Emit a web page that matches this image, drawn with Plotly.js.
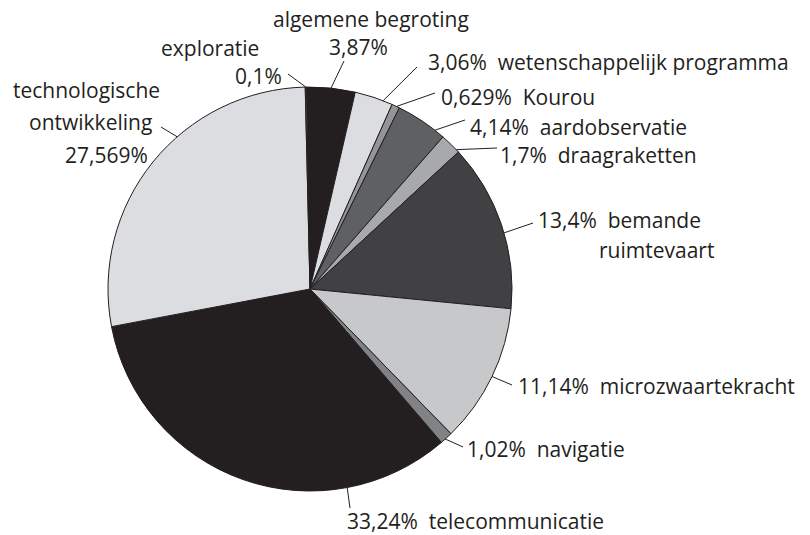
<!DOCTYPE html>
<html>
<head>
<meta charset="utf-8">
<script src="https://cdn.plot.ly/plotly-3.0.1.min.js"></script>
<style>html,body{margin:0;padding:0;background:#fff;}#chart{width:810px;height:535px;}</style>
</head>
<body>
<div id="chart"></div>
<script>
// ---- data ----
const labels = ['algemene begroting', 'wetenschappelijk programma', 'Kourou', 'aardobservatie',
  'draagraketten', 'bemande ruimtevaart', 'microzwaartekracht', 'navigatie',
  'telecommunicatie', 'technologische ontwikkeling', 'exploratie'];
const values = [3.87, 3.06, 0.629, 4.14, 1.7, 13.4, 11.14, 1.02, 33.24, 27.569, 0.1];
const colors = ['#231f20', '#dcdde0', '#939598', '#5f6062', '#a7a9ac', '#414042',
  '#c7c8ca', '#808285', '#231f20', '#dcdde0', '#6d6e71'];

// ---- layout / style ----
const W = 810, H = 535;
const CX = 310, CY = 289, R = 202, ROT = -1;
const TXT = '#231f20';
const FONT = 'Open Sans, Lato, sans-serif';
const FS = 21;
// where along each slice the leader line starts (0..1)
const anchorFrac = [0.5, 0.75, 0.6, 0.8, 0.85, 0.55, 0.5, 0.6, 0.25, 0.6, 0.5];
// leader line end points (pixels)
const tails = [[344, 61], [417, 67], [435, 93], [465, 120], [497, 148], [533, 223],
  [512, 385], [463, 447], [350, 508], [161, 127], [288, 74]];
const SP = '\u00a0 ';
const pct = v => String(v).replace('.', ',') + '%';
// label pieces: [text builder (pct, words), x, y, xanchor]
const pieces = [
  [[(p, w) => w.join(' '), 371, 19, 'center'], [(p) => p, 358, 47, 'center']],
  [[(p, w) => p + SP + w.join(' '), 427, 62, 'left']],
  [[(p, w) => p + SP + w.join(' '), 440, 97, 'left']],
  [[(p, w) => p + SP + w.join(' '), 469, 127, 'left']],
  [[(p, w) => p + SP + w.join(' '), 499, 155, 'left']],
  [[(p, w) => p + SP + w[0], 537, 220, 'left'], [(p, w) => w[1], 598, 250, 'left']],
  [[(p, w) => p + SP + w.join(' '), 517, 386, 'left']],
  [[(p, w) => p + SP + w.join(' '), 466, 449, 'left']],
  [[(p, w) => p + SP + w.join(' '), 346, 521, 'left']],
  [[(p, w) => w[0], 86, 90, 'center'], [(p, w) => w[1], 90, 122, 'center'], [(p) => p, 107, 155, 'center']],
  [[(p, w) => w.join(' '), 210, 48, 'center'], [(p) => p, 258, 76, 'center']]
];

const px2x = p => p / W;
const py2y = p => 1 - p / H;

const total = values.reduce((a, b) => a + b, 0);
let cum = 0;
const shapes = [];
const annotations = [];
values.forEach((v, i) => {
  const a = (ROT + 360 * (cum + v * anchorFrac[i]) / total) * Math.PI / 180;
  const hx = CX + R * Math.sin(a), hy = CY - R * Math.cos(a);
  cum += v;
  shapes.push({
    type: 'line', xref: 'paper', yref: 'paper',
    x0: px2x(hx), y0: py2y(hy), x1: px2x(tails[i][0]), y1: py2y(tails[i][1]),
    line: {color: TXT, width: 1}
  });
  const words = labels[i].split(' ');
  pieces[i].forEach(pc => {
    annotations.push({
      xref: 'paper', yref: 'paper', x: px2x(pc[1]), y: py2y(pc[2]),
      xanchor: pc[3], yanchor: 'middle', showarrow: false, borderpad: 0,
      text: pc[0](pct(v), words), font: {family: FONT, size: FS, color: TXT}
    });
  });
});

const trace = {
  type: 'pie', labels: labels, values: values, sort: false, direction: 'clockwise',
  rotation: ROT, textinfo: 'none', hoverinfo: 'label+percent',
  marker: {colors: colors, line: {color: '#231f20', width: 1}},
  domain: {x: [px2x(CX - R), px2x(CX + R)], y: [py2y(CY + R), py2y(CY - R)]}
};

Plotly.newPlot('chart', [trace], {
  width: W, height: H, margin: {l: 0, r: 0, t: 0, b: 0},
  showlegend: false, paper_bgcolor: '#fff',
  shapes: shapes, annotations: annotations,
  font: {family: FONT, color: TXT}
}, {displayModeBar: false, staticPlot: true});
</script>
</body>
</html>
